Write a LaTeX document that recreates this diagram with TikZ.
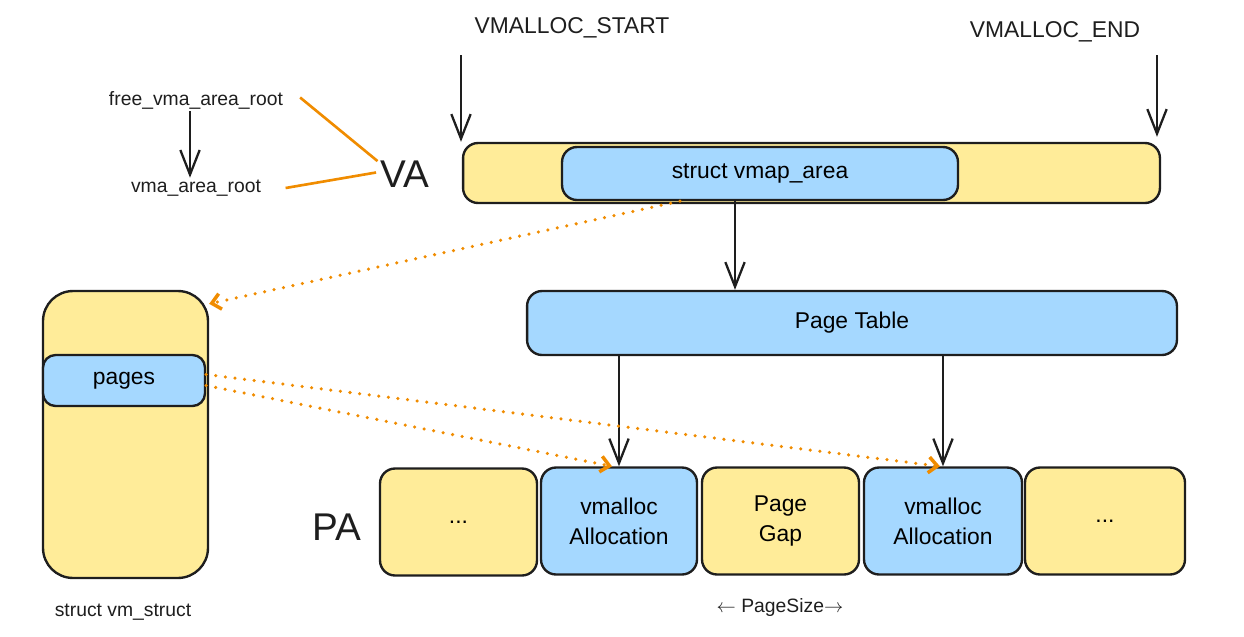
\documentclass[tikz,border=0pt]{standalone}
\usepackage{fontspec}
\setmainfont{Liberation Sans}
\usetikzlibrary{arrows.meta}

\definecolor{boxyellow}{HTML}{FFEC99}
\definecolor{boxblue}{HTML}{A5D8FF}
\definecolor{lineorange}{HTML}{F08C00}
\definecolor{ink}{HTML}{1E1E1E}

\tikzset{
  box/.style={draw=ink, line width=1.35pt, rounded corners=0.3cm, align=center,
    inner sep=0pt, font=\fontsize{13}{17}\selectfont},
  yellowbox/.style={box, fill=boxyellow},
  bluebox/.style={box, fill=boxblue},
  label/.style={text=ink, inner sep=1pt},
  blackarrow/.style={draw=ink, line width=1.3pt, -{Straight Barb[length=14pt,width=11pt]}},
  orangeline/.style={draw=lineorange, line width=1.5pt},
  orangedots/.style={draw=lineorange, line width=2pt, line cap=round,
    dash pattern=on 0pt off 5.5pt, -{Straight Barb[length=5pt,width=9pt]}}
}

\begin{document}
\begin{tikzpicture}[x=0.02cm, y=-0.02cm]
  \useasboundingbox (0,0) rectangle (1244,636);

  \node[label, font=\fontsize{13}{15}\selectfont] (vstart) at (572,28) {VMALLOC\_START};
  \node[label, font=\fontsize{13}{15}\selectfont] (vend) at (1055,32) {VMALLOC\_END};
  \coordinate (vstarttop) at (461,55);
  \coordinate (vendtop) at (1157,55);

  \node[yellowbox, minimum width=13.94cm, minimum height=1.2cm] (vabar) at (811.5,173) {};
  \node[bluebox, minimum width=7.92cm, minimum height=1.06cm] (vmap) at (760,173.5) {struct vmap\_area};

  \draw[blackarrow] (vstarttop) -- (vstarttop |- vabar.north);
  \draw[blackarrow] (vendtop) -- ([yshift=0.1cm]vendtop |- vabar.north);

  \node[label, font=\fontsize{11}{13}\selectfont] (free) at (196,100) {free\_vma\_area\_root};
  \node[label, font=\fontsize{11}{13}\selectfont] (vroot) at (196,188) {vma\_area\_root};
  \node[label, font=\fontsize{22}{24}\selectfont] (va) at (405,174) {VA};

  \draw[blackarrow] ([xshift=-0.12cm]free.south) -- ([xshift=-0.12cm]vroot.north);
  \draw[orangeline] ([xshift=0.3cm,yshift=0.05cm]free.east) -- ([xshift=-0.02cm,yshift=-0.05cm]va.north west);
  \draw[orangeline] ([xshift=0.45cm]vroot.east) -- ([xshift=-0.05cm,yshift=0.03cm]va.west);

  \node[bluebox, minimum width=13cm, minimum height=1.28cm] (pagetable) at (852,323) {Page Table};
  \draw[blackarrow] ([xshift=-0.5cm]vmap.south) -- ([xshift=-0.5cm]vmap.south |- pagetable.north);

  \node[yellowbox, minimum width=3.14cm, minimum height=2.14cm] (dotsa) at (458.5,522) {...};
  \node[bluebox, minimum width=3.12cm, minimum height=2.14cm] (alloca) at (619,521) {vmalloc\\Allocation};
  \node[yellowbox, minimum width=3.14cm, minimum height=2.14cm] (gap) at (780.5,521) {Page\\Gap};
  \node[bluebox, minimum width=3.16cm, minimum height=2.14cm] (allocb) at (943,521) {vmalloc\\Allocation};
  \node[yellowbox, minimum width=3.2cm, minimum height=2.14cm] (dotsb) at (1105,521) {...};

  \draw[blackarrow] (pagetable.south -| alloca.north) -- (alloca.north);
  \draw[blackarrow] (pagetable.south -| allocb.north) -- (allocb.north);

  \node[label, font=\fontsize{22}{24}\selectfont] (pa) at (337,527) {PA};

  \node[yellowbox, rounded corners=0.6cm, minimum width=3.3cm, minimum height=5.74cm] (vmbox) at (125.5,434.5) {};
  \node[bluebox, rounded corners=0.25cm, minimum width=3.24cm, minimum height=1.02cm] (pages) at (124,380.5) {pages};
  \node[label, font=\fontsize{11}{13}\selectfont] (vmstruct) at (123,612) {struct vm\_struct};

  \node[label, font=\fontsize{11}{13}\selectfont] (pagesize) at (780,607) {$\leftarrow$ PageSize$\rightarrow$};

  \draw[orangedots] ([xshift=-1.6cm]vmap.south) -- ([yshift=-0.28cm]vmbox.north east);
  \draw[orangedots] ([yshift=0.12cm]pages.east) -- ([xshift=-0.06cm]allocb.north);
  \draw[orangedots] ([yshift=-0.1cm]pages.east) -- ([xshift=-0.14cm]alloca.north);
\end{tikzpicture}
\end{document}
